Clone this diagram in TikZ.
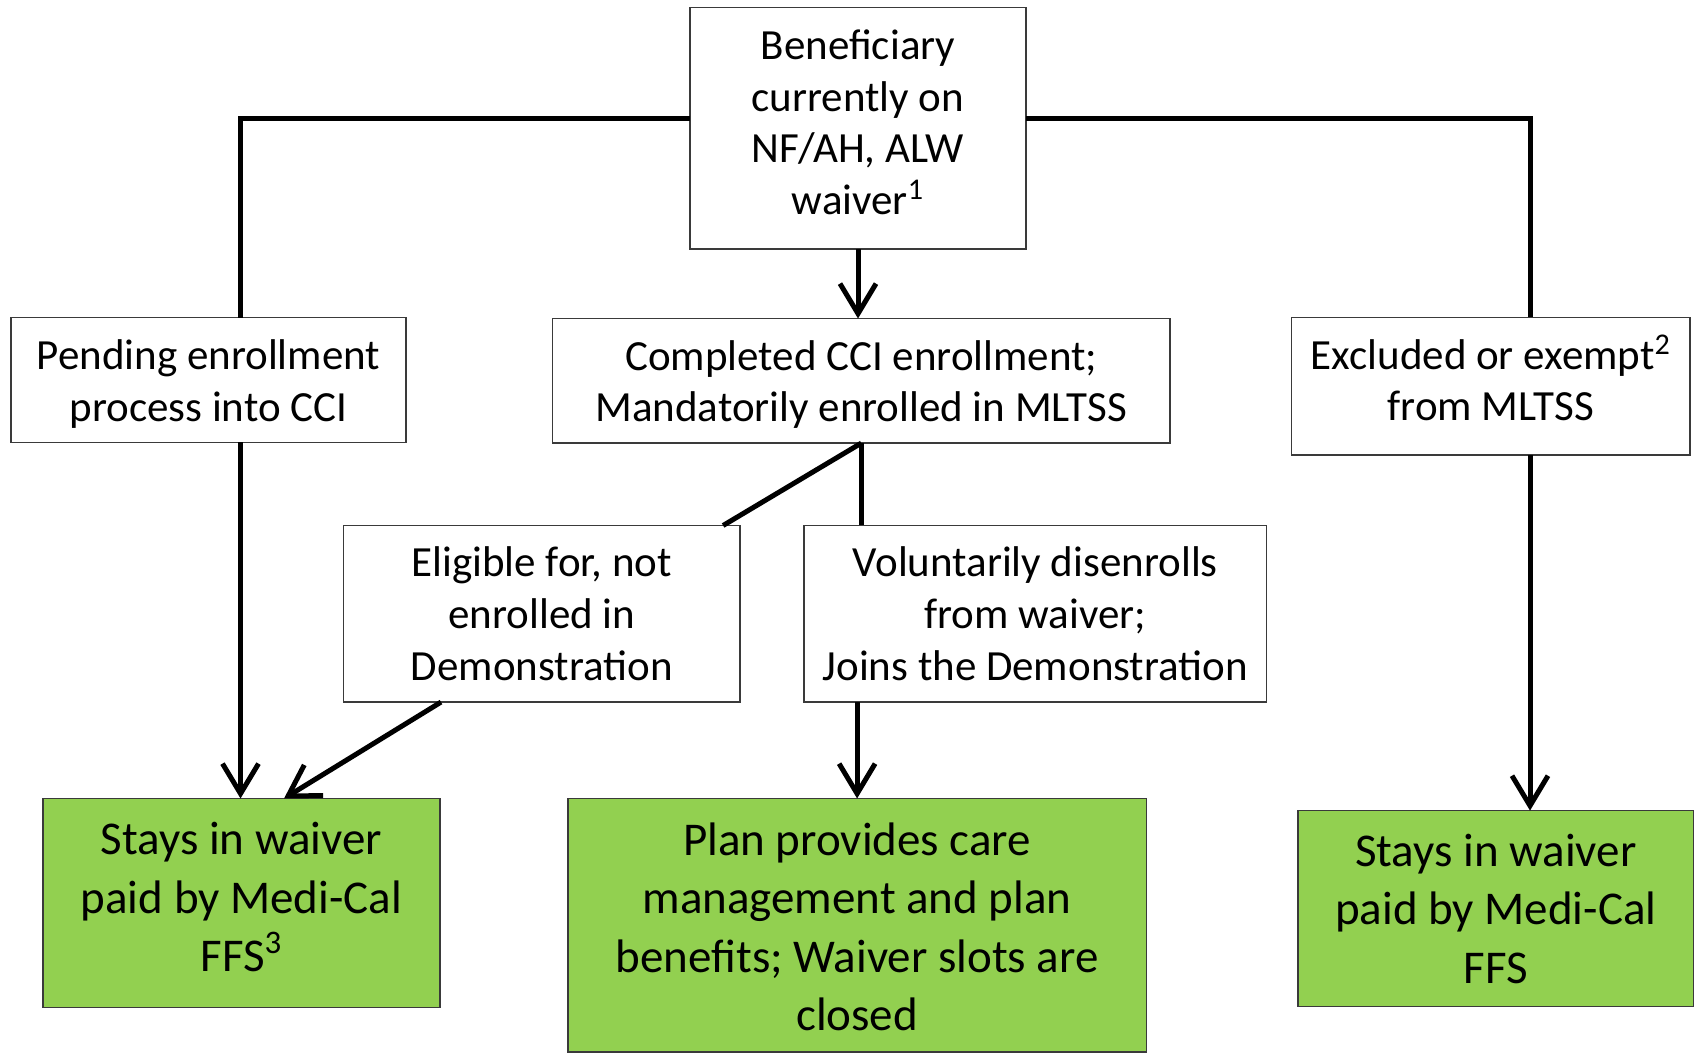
\documentclass[tikz,border=0pt]{standalone}
\usepackage{fontspec}
\setmainfont{Carlito}
\usetikzlibrary{arrows.meta,calc}
\definecolor{boxgreen}{HTML}{92D050}
\definecolor{edgegray}{HTML}{3A3A3A}
\newcommand{\liftlines}[2]{\setbox0\hbox{\begin{tabular}{@{}c@{}}#2\end{tabular}}%
  \raisebox{\dimexpr #1-(\ht0-\dp0)/2\relax}[0pt][0pt]{\box0}}
\tikzset{
  box/.style={draw=edgegray, line width=0.75pt, fill=white, inner sep=0pt, outer sep=0pt,
    align=center, font=\fontsize{21.5}{25.9}\selectfont},
  gbox/.style={box, fill=boxgreen, font=\fontsize{23.5}{29.2}\selectfont},
  conn/.style={line width=2.5pt, black},
  arr/.style={conn, -{Straight Barb[length=15pt,width=18pt,line width=2.5pt]}},
}
\begin{document}
\begin{tikzpicture}[x=0.5pt,y=-0.5pt]
\useasboundingbox (0,0) rectangle (1699,1053);
\node[box, minimum width=168pt, minimum height=120.7pt] (top) at (858,128.3)
  {\liftlines{-4.35pt}{Beneficiary\\currently on\\NF/AH, ALW\\waiver\textsuperscript{1}}};
\node[box, minimum width=197.5pt, minimum height=62.3pt] (pending) at (208.4,380)
  {\liftlines{-7.6pt}{Pending enrollment\\process into CCI}};
\node[box, minimum width=308.7pt, minimum height=62.3pt] (completed) at (861.3,380.8)
  {\liftlines{-7.6pt}{Completed CCI enrollment;\\Mandatorily enrolled in MLTSS}};
\node[box, minimum width=199.3pt, minimum height=68.8pt] (excluded) at (1490.8,386.3)
  {\liftlines{-4.35pt}{Excluded or exempt\textsuperscript{2}\\from MLTSS}};
\node[box, minimum width=198.3pt, minimum height=88.3pt] (eligible) at (541.8,613.8)
  {Eligible for, not\\enrolled in\\Demonstration};
\node[box, minimum width=231.3pt, minimum height=88.3pt] (voluntary) at (1035.3,613.8)
  {Voluntarily disenrolls\\from waiver;\\Joins the Demonstration};
\node[gbox, minimum width=198.5pt, minimum height=104.6pt] (greenL) at (241.5,903.1)
  {\liftlines{-5.4pt}{Stays in waiver\\paid by Medi-Cal\\FFS\textsuperscript{3}}};
\node[gbox, minimum width=289.3pt, minimum height=126.8pt] (greenM) at (857.1,925.3)
  {\liftlines{-9.2pt}{Plan provides care\\management and plan\\benefits; Waiver slots are\\closed}};
\node[gbox, minimum width=197.8pt, minimum height=98pt] (greenR) at (1495.8,908.6)
  {Stays in waiver\\paid by Medi-Cal\\FFS};
\coordinate (tl) at (240.5,119);
\coordinate (tr) at (1530,119);
\draw[conn] (top.west |- tl) -- (tl) -- (tl |- pending.north);
\draw[conn] (top.east |- tr) -- (tr) -- (tr |- excluded.north);
\draw[arr] (top.south) -- (top.south |- completed.north);
\draw[arr] (tl |- pending.south) -- (tl |- greenL.north);
\draw[arr] (tr |- excluded.south) -- (tr |- greenR.north);
\draw[conn] (completed.south) -- ([xshift=-8.5pt]eligible.north east);
\draw[conn] (completed.south) -- (completed.south |- voluntary.north);
\draw[arr] ([xshift=-50.4pt]eligible.south) -- ([xshift=21.25pt]greenL.north);
\draw[arr] (greenM.north |- voluntary.south) -- (greenM.north);
\end{tikzpicture}
\end{document}
